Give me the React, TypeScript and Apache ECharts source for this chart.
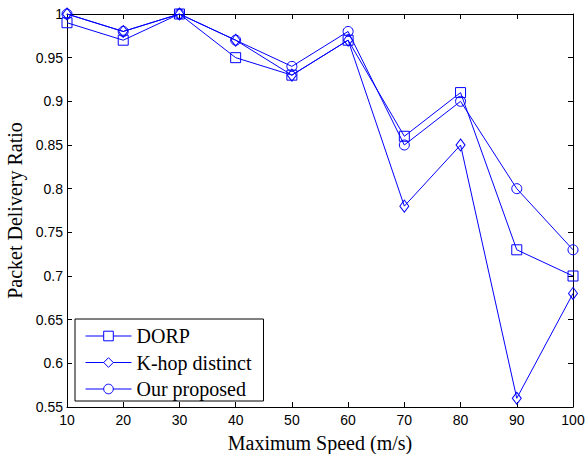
import React, { useEffect, useRef } from "react";
import * as echarts from "echarts";

const speeds = [10, 20, 30, 40, 50, 60, 70, 80, 90, 100];
const dorp = [0.99, 0.97, 1.0, 0.95, 0.93, 0.97, 0.86, 0.91, 0.73, 0.70];
const khop = [1.0, 0.98, 1.0, 0.97, 0.93, 0.97, 0.78, 0.85, 0.56, 0.68];
const ours = [1.0, 0.98, 1.0, 0.97, 0.94, 0.98, 0.85, 0.90, 0.80, 0.73];
const seriesNames = ["DORP", "K-hop distinct", "Our proposed"];

const BLUE = "#0000ff";

export default function App() {
  const ref = useRef<HTMLDivElement>(null);
  useEffect(() => {
    const chart = echarts.init(ref.current!, null, { renderer: "svg" });
    const mk = (name: string, vals: number[], symbol: string, size: any) => ({
      name,
      type: "line",
      xAxisIndex: 0,
      yAxisIndex: 0,
      data: speeds.map((s, i) => [s, vals[i]]),
      symbol,
      symbolSize: size,
      showSymbol: true,
      lineStyle: { color: BLUE, width: 1 },
      itemStyle: { color: "transparent", borderColor: BLUE, borderWidth: 1 },
      emphasis: { disabled: true },
    });
    const axisLine = { show: true, lineStyle: { color: "#000", width: 1 } };
    const tick = { show: true, inside: true, length: 5, lineStyle: { color: "#000" } };
    const labelFont = { fontFamily: "Liberation Sans", fontSize: 14, color: "#000" };
    chart.setOption({
      animation: false,
      backgroundColor: "#fff",
      grid: { left: 67, right: 12, top: 14, bottom: 47, containLabel: false, outerBoundsMode: "none" },
      xAxis: [
        {
          type: "value", min: 10, max: 100, interval: 10, position: "bottom",
          axisLine, axisTick: tick, splitLine: { show: false },
          axisLabel: { ...labelFont, margin: 6 },
          name: "Maximum Speed (m/s)", nameLocation: "middle", nameGap: 26,
          nameTextStyle: { fontFamily: "Liberation Serif", fontSize: 20, color: "#000", verticalAlign: "top" },
        },
        {
          type: "value", min: 10, max: 100, interval: 10, position: "top",
          axisLine, axisTick: tick, splitLine: { show: false }, axisLabel: { show: false },
        },
      ],
      yAxis: [
        {
          type: "value", min: 0.55, max: 1, interval: 0.05, position: "left",
          axisLine, axisTick: tick, splitLine: { show: false },
          axisLabel: { ...labelFont, margin: 4, formatter: (v: number) => String(Math.round(v * 100) / 100) },
          name: "Packet Delivery Ratio", nameLocation: "middle", nameGap: 41,
          nameTextStyle: { fontFamily: "Liberation Serif", fontSize: 20, color: "#000" },
        },
        {
          type: "value", min: 0.55, max: 1, interval: 0.05, position: "right",
          axisLine, axisTick: tick, splitLine: { show: false }, axisLabel: { show: false },
        },
      ],
      legend: {
        data: seriesNames,
        orient: "vertical",
        left: 75,
        top: 319,
        itemWidth: 46,
        itemHeight: 12,
        itemGap: 4.5,
        padding: [6, 12, 1, 10],
        borderColor: "#000",
        borderWidth: 1,
        backgroundColor: "#fff",
        lineStyle: { width: 1, color: BLUE },
        itemStyle: { color: "#fff", borderColor: BLUE, borderWidth: 1 },
        textStyle: { fontFamily: "Liberation Serif", fontSize: 20, color: "#000", lineHeight: 22 },
      },
      series: [
        mk(seriesNames[0], dorp, "rect", 10),
        mk(seriesNames[1], khop, "diamond", [9, 12]),
        mk(seriesNames[2], ours, "circle", 10),
      ],
    });
    return () => chart.dispose();
  }, []);
  return (
    <div
      ref={ref}
      style={{ position: "fixed", left: 0, top: 0, width: 585, height: 454 }}
    />
  );
}
